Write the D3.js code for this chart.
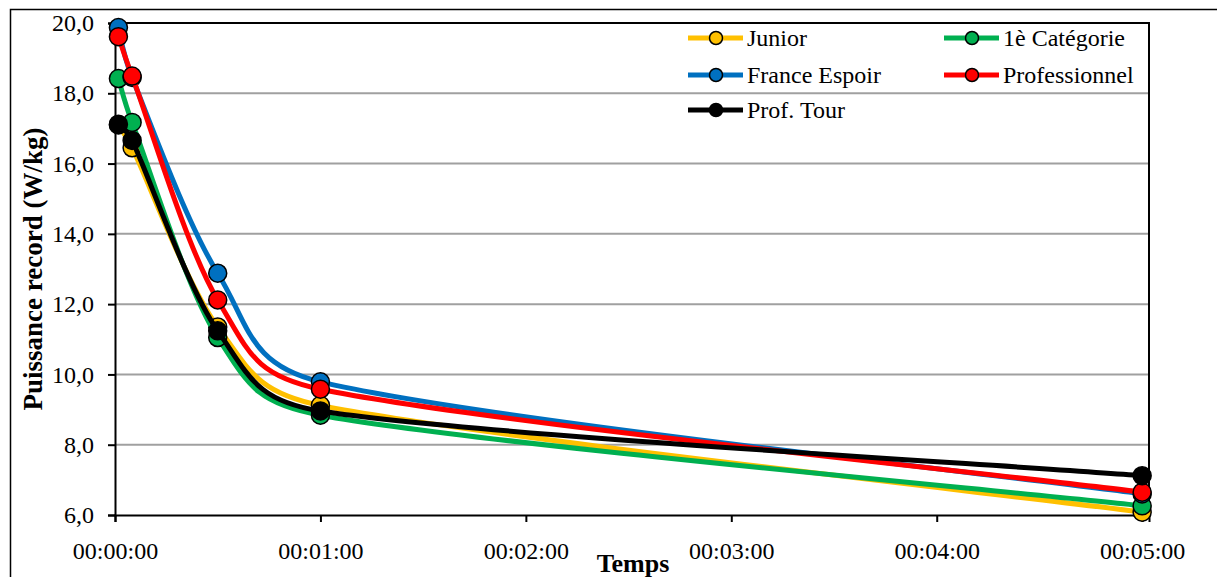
<!DOCTYPE html>
<html>
<head>
<meta charset="utf-8">
<script src="https://cdn.jsdelivr.net/npm/d3@7"></script>
<style>
  html, body { margin: 0; padding: 0; background: #fff; }
  svg { display: block; }
</style>
</head>
<body>
<svg id="chart" width="1217" height="577"></svg>
<script>
// Durations (seconds) of the record efforts
const seconds = [1, 5, 30, 60, 300];

// Record power per category (W/kg)
const junior       = [17.10, 16.45, 11.35, 9.12, 6.08];
const premiereCat  = [18.42, 17.17, 11.05, 8.84, 6.26];
const franceEspoir = [19.87, 18.45, 12.88, 9.79, 6.60];
const professionnel= [19.61, 18.49, 12.12, 9.58, 6.65];
const profTour     = [17.12, 16.66, 11.24, 8.96, 7.12];

const seriesNames  = ["Junior", "1è Catégorie", "France Espoir", "Professionnel", "Prof. Tour"];
const seriesColors = ["#FFC000", "#00B050", "#0070C0", "#FF0000", "#000000"];
const seriesValues = [junior, premiereCat, franceEspoir, professionnel, profTour];

// Axis ticks
const xTickValues = [0, 60, 120, 180, 240, 300];
const xTickLabels = ["00:00:00", "00:01:00", "00:02:00", "00:03:00", "00:04:00", "00:05:00"];
const yTickValues = [6, 8, 10, 12, 14, 16, 18, 20];

const SERIF = "'Liberation Serif', 'Times New Roman', Times, serif";

const svg = d3.select("#chart");

// outer chart frame
svg.append("rect")
  .attr("x", 10.5).attr("y", 9.5)
  .attr("width", 1210).attr("height", 580)
  .attr("fill", "none").attr("stroke", "#000").attr("stroke-width", 1.5);

const plot = { left: 115, right: 1149, top: 23, bottom: 515 };

const x = d3.scaleLinear().domain([0, 302]).range([plot.left, plot.right]);
const y = d3.scaleLinear().domain([6, 20]).range([plot.bottom, plot.top]);

// horizontal gridlines
svg.append("g")
  .selectAll("line")
  .data(yTickValues.filter(v => v > 6 && v < 20))
  .join("line")
  .attr("x1", plot.left).attr("x2", plot.right)
  .attr("y1", d => y(d)).attr("y2", d => y(d))
  .attr("stroke", "#a0a0a0").attr("stroke-width", 2);

// plot frame (top & right)
svg.append("path")
  .attr("d", `M${plot.left},${plot.top}H${plot.right}V${plot.bottom}`)
  .attr("fill", "none").attr("stroke", "#000").attr("stroke-width", 2);

// y axis
const yAxis = svg.append("g")
  .attr("transform", `translate(${plot.left},0)`)
  .call(d3.axisLeft(y).tickValues(yTickValues).tickSize(7).tickPadding(14)
        .tickFormat(d => d3.format(".1f")(d).replace(".", ",")));
yAxis.select(".domain").attr("stroke", "#000").attr("stroke-width", 2);
yAxis.selectAll(".tick line").attr("stroke", "#000").attr("stroke-width", 2);
yAxis.selectAll(".tick text").style("font-size", "24px").style("font-family", SERIF).attr("fill", "#000");

// x axis
const xAxis = svg.append("g")
  .attr("transform", `translate(0,${plot.bottom})`)
  .call(d3.axisBottom(x).tickValues(xTickValues).tickSize(7).tickPadding(20)
        .tickFormat((d, i) => xTickLabels[i]));
xAxis.select(".domain").attr("stroke", "#000").attr("stroke-width", 2);
xAxis.selectAll(".tick line").attr("stroke", "#000").attr("stroke-width", 2);
xAxis.selectAll(".tick text").style("font-size", "24px").style("font-family", SERIF).attr("fill", "#000");

// axis titles
svg.append("text")
  .attr("x", 633).attr("y", 572)
  .attr("text-anchor", "middle")
  .style("font-family", SERIF).style("font-size", "26px").style("font-weight", "bold")
  .text("Temps");

svg.append("text")
  .attr("transform", "translate(42,269) rotate(-90)")
  .attr("text-anchor", "middle")
  .style("font-family", SERIF).style("font-size", "27px").style("font-weight", "bold")
  .text("Puissance record (W/kg)");

// Smoothed path through pixel points: cubic Bezier segments whose
// control arms follow the neighbour chord (1/6), capped at half the segment.
function smoothPath(pts) {
  const p = d3.path();
  const n = pts.length;
  p.moveTo(pts[0][0], pts[0][1]);
  const arm = (i, dir) => {
    const prev = pts[Math.max(i - 1, 0)], next = pts[Math.min(i + 1, n - 1)];
    let ax = (next[0] - prev[0]) / 6, ay = (next[1] - prev[1]) / 6;
    const other = pts[i + dir];
    const seg = Math.hypot(other[0] - pts[i][0], other[1] - pts[i][1]);
    const len = Math.hypot(ax, ay);
    const cap = seg * 0.5;
    if (len > cap && len > 0) { ax *= cap / len; ay *= cap / len; }
    return [ax, ay];
  };
  for (let i = 0; i < n - 1; i++) {
    const a = pts[i], b = pts[i + 1];
    const ta = arm(i, 1), tb = arm(i + 1, -1);
    p.bezierCurveTo(a[0] + ta[0], a[1] + ta[1], b[0] - tb[0], b[1] - tb[1], b[0], b[1]);
  }
  return p.toString();
}

seriesValues.forEach((vals, i) => {
  const pts = vals.map((v, j) => ({ t: seconds[j], v }));
  const g = svg.append("g");
  g.append("path")
    .attr("d", smoothPath(pts.map(d => [x(d.t), y(d.v)])))
    .attr("fill", "none")
    .attr("stroke", seriesColors[i])
    .attr("stroke-width", 5)
    .attr("stroke-linejoin", "round");
  g.selectAll("circle")
    .data(pts)
    .join("circle")
    .attr("cx", d => x(d.t))
    .attr("cy", d => y(d.v))
    .attr("r", 9)
    .attr("fill", seriesColors[i])
    .attr("stroke", "#000")
    .attr("stroke-width", 1.5);
});

// legend (two columns, transparent background)
const legendCols = [688, 944];
const legendRows = [38, 75, 110];
const legend = svg.append("g");
seriesNames.forEach((name, i) => {
  const lx = legendCols[i % 2];
  const ly = legendRows[Math.floor(i / 2)];
  const item = legend.append("g").attr("transform", `translate(${lx},${ly})`);
  item.append("line")
    .attr("x1", 0).attr("x2", 55).attr("y1", 0).attr("y2", 0)
    .attr("stroke", seriesColors[i]).attr("stroke-width", 5);
  item.append("circle")
    .attr("cx", 28).attr("cy", 0).attr("r", 6.5)
    .attr("fill", seriesColors[i]).attr("stroke", "#000").attr("stroke-width", 1.5);
  item.append("text")
    .attr("x", 59).attr("y", 0).attr("dy", "0.33em")
    .style("font-family", SERIF).style("font-size", "24px")
    .attr("fill", "#000")
    .text(name);
});
</script>
</body>
</html>
